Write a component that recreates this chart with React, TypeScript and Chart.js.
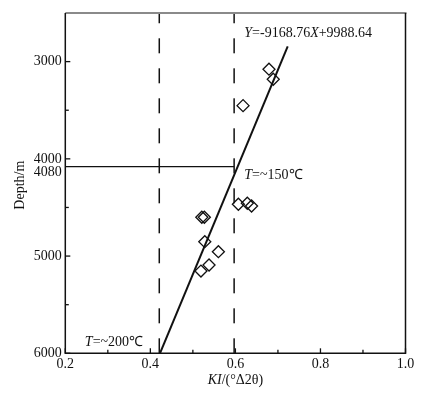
import React, { useEffect, useRef } from "react";
import { Chart, registerables } from "chart.js";

Chart.register(...registerables);

// Sample data: illite crystallinity (KI) vs depth
const kiValues = [0.679, 0.689, 0.618, 0.607, 0.628, 0.638, 0.521, 0.527, 0.528, 0.56, 0.538, 0.519];
const depthValues = [3078, 3181, 3453, 4467, 4457, 4485, 4601, 4601, 4852, 4955, 5092, 5154];

// Regression line end points (as drawn)
const fitKI = [0.4226, 0.723];
const fitDepth = [6000, 2844];

// Reference lines
const dashedKI = [0.421, 0.597];
const depthLevel = 4080;

// Axes
const xTicks = [0.2, 0.3, 0.4, 0.5, 0.6, 0.7, 0.8, 0.9, 1.0];
const xMajorTicks = [0.2, 0.4, 0.6, 0.8, 1.0];
const yTicks = [3000, 3500, 4000, 4500, 5000, 5500, 6000];
const yMajorTicks = [3000, 4000, 5000, 6000];
const yExtraLabel = "4080";

const FONT = "'Liberation Serif', 'Times New Roman', serif";

export default function App() {
  const ref = useRef<HTMLCanvasElement | null>(null);

  useEffect(() => {
    if (!ref.current) return;

    const decor = {
      id: "decor",
      afterDatasetsDraw(chart: any) {
        const ctx = chart.ctx;
        const xs = chart.scales.x;
        const ys = chart.scales.y;
        const { left, right, top, bottom } = chart.chartArea;
        ctx.save();
        // frame
        ctx.lineWidth = 2;
        ctx.strokeStyle = "#8a8a8a";
        ctx.beginPath();
        ctx.moveTo(left, top);
        ctx.lineTo(right + 1, top);
        ctx.stroke();
        ctx.lineWidth = 1.5;
        ctx.strokeStyle = "#111";
        ctx.beginPath();
        ctx.moveTo(left, top);
        ctx.lineTo(left, bottom);
        ctx.lineTo(right, bottom);
        ctx.lineTo(right, top);
        ctx.stroke();
        // inside ticks
        ctx.lineWidth = 1.3;
        xTicks.forEach((v) => {
          const px = xs.getPixelForValue(v);
          const len = xMajorTicks.includes(v) ? 5 : 3.5;
          ctx.beginPath();
          ctx.moveTo(px, bottom);
          ctx.lineTo(px, bottom - len);
          ctx.stroke();
        });
        yTicks.forEach((v) => {
          const py = ys.getPixelForValue(v);
          const len = yMajorTicks.includes(v) ? 5 : 3.5;
          ctx.beginPath();
          ctx.moveTo(left, py);
          ctx.lineTo(left + len, py);
          ctx.stroke();
        });
        // extra y label
        ctx.fillStyle = "#111";
        ctx.font = `14px ${FONT}`;
        ctx.textAlign = "right";
        ctx.textBaseline = "middle";
        ctx.fillText(yExtraLabel, left - 3.5, ys.getPixelForValue(depthLevel) + 5.5);

        // rich text helper
        const rich = (parts: [string, boolean][], x: number, y: number, align: "left" | "center") => {
          let total = 0;
          parts.forEach(([t, it]) => {
            ctx.font = `${it ? "italic " : ""}14px ${FONT}`;
            total += ctx.measureText(t).width;
          });
          let cx = align === "center" ? x - total / 2 : x;
          ctx.textAlign = "left";
          ctx.textBaseline = "alphabetic";
          parts.forEach(([t, it]) => {
            ctx.font = `${it ? "italic " : ""}14px ${FONT}`;
            ctx.fillText(t, cx, y);
            cx += ctx.measureText(t).width;
          });
        };
        rich(
          [["Y", true], ["=-9168.76", false], ["X", true], ["+9988.64", false]],
          xs.getPixelForValue(0.621),
          ys.getPixelForValue(2746),
          "left"
        );
        rich([["T", true], ["=~150℃", false]], xs.getPixelForValue(0.621), ys.getPixelForValue(4207), "left");
        rich([["T", true], ["=~200℃", false]], xs.getPixelForValue(0.246), ys.getPixelForValue(5926), "left");
        // axis titles
        rich([["KI", true], ["/(°Δ2θ)", false]], (left + right) / 2, 384, "center");
        ctx.save();
        ctx.translate(24, (top + bottom) / 2 + 2);
        ctx.rotate(-Math.PI / 2);
        ctx.font = `14px ${FONT}`;
        ctx.textAlign = "center";
        ctx.textBaseline = "alphabetic";
        ctx.fillText("Depth/m", 0, 0);
        ctx.restore();
        ctx.restore();
      },
    };

    const chart = new Chart(ref.current, {
      type: "scatter",
      data: {
        datasets: [
          {
            label: "samples",
            data: kiValues.map((x, i) => ({ x, y: depthValues[i] })),
            pointStyle: "rectRot",
            pointRadius: 6,
            borderColor: "#111",
            backgroundColor: "rgba(0,0,0,0)",
            borderWidth: 1.3,
          },
          {
            label: "fit",
            data: fitKI.map((x, i) => ({ x, y: fitDepth[i] })),
            showLine: true,
            pointRadius: 0,
            borderColor: "#111",
            borderWidth: 2,
          },
          {
            label: "dash1",
            data: [
              { x: dashedKI[0], y: 6000 },
              { x: dashedKI[0], y: 2500 },
            ],
            showLine: true,
            pointRadius: 0,
            borderColor: "#111",
            borderWidth: 1.5,
            borderDash: [15, 15],
          },
          {
            label: "dash2",
            data: [
              { x: dashedKI[1], y: 6000 },
              { x: dashedKI[1], y: 2500 },
            ],
            showLine: true,
            pointRadius: 0,
            borderColor: "#111",
            borderWidth: 1.5,
            borderDash: [15, 15],
          },
          {
            label: "level",
            data: [
              { x: 0.2, y: depthLevel },
              { x: dashedKI[1], y: depthLevel },
            ],
            showLine: true,
            pointRadius: 0,
            borderColor: "#111",
            borderWidth: 1.3,
          },
        ],
      },
      options: {
        animation: false,
        responsive: true,
        maintainAspectRatio: false,
        layout: { padding: { left: 0, top: 13, right: 29.5, bottom: 0 } },
        plugins: { legend: { display: false }, tooltip: { enabled: false } },
        scales: {
          x: {
            type: "linear",
            min: 0.2,
            max: 1.0,
            grid: { display: false, drawTicks: false, tickLength: 0 },
            border: { display: false },
            afterBuildTicks: (s: any) => {
              s.ticks = xTicks.map((v) => ({ value: v }));
            },
            afterFit: (s: any) => {
              s.height = 43.7;
            },
            ticks: {
              autoSkip: false,
              maxRotation: 0,
              padding: 3,
              color: "#111",
              font: { family: FONT, size: 14 },
              callback: (v: any) => {
                const n = Number(v);
                return xMajorTicks.some((m) => Math.abs(m - n) < 1e-6) ? n.toFixed(1) : "";
              },
            },
          },
          y: {
            type: "linear",
            reverse: true,
            min: 2500,
            max: 6000,
            grid: { display: false, drawTicks: false, tickLength: 0 },
            border: { display: false },
            afterBuildTicks: (s: any) => {
              s.ticks = yTicks.map((v) => ({ value: v }));
            },
            afterFit: (s: any) => {
              s.width = 65.3;
            },
            ticks: {
              autoSkip: false,
              padding: 3.5,
              color: "#111",
              font: { family: FONT, size: 14 },
              callback: (v: any) => (yMajorTicks.includes(Number(v)) ? String(v) : ""),
            },
          },
        },
      },
      plugins: [decor],
    });
    return () => chart.destroy();
  }, []);

  return (
    <div style={{ position: "fixed", left: 0, top: 0, width: 435, height: 397, background: "#fff" }}>
      <canvas ref={ref} />
    </div>
  );
}
